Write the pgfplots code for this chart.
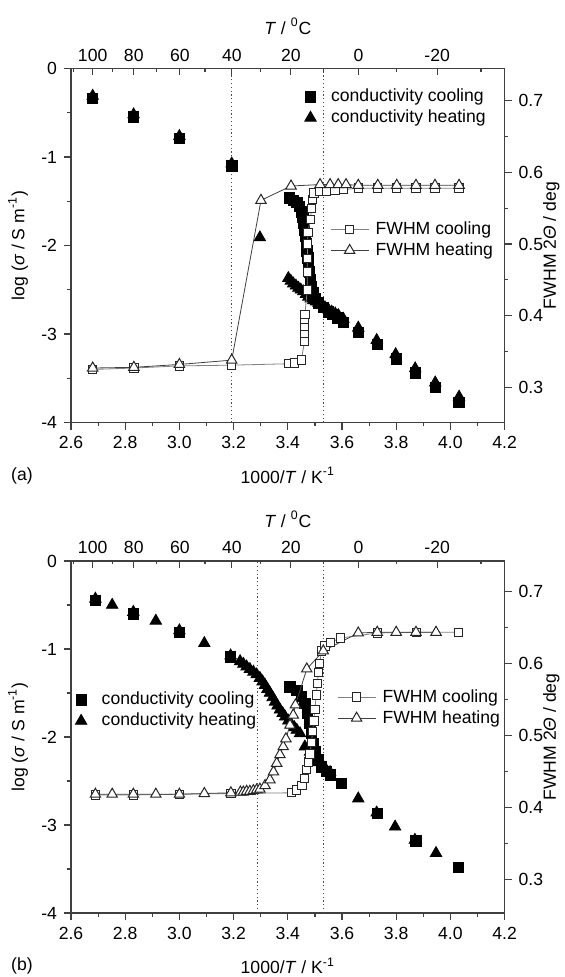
\documentclass[border=0pt]{standalone}
\usepackage{fontspec}
\setmainfont{Liberation Sans}
\usepackage{pgfplots}
\pgfplotsset{compat=1.18}

\newcommand{\fs}{\fontsize{8.8pt}{10.5pt}\selectfont}
\pgfplotsset{
  base/.style={
    scale only axis, width=216.8pt, xmin=2.6, xmax=4.2,
    font=\fs, tick label style={font=\fs},
    axis line style={line width=0.7pt, black!75},
    every tick/.style={line width=0.6pt, black!75},
    major tick length=3.5pt, minor tick length=1.75pt,
  },
  condaxis/.style={
    base, axis x line*=bottom, axis y line*=left, tick align=outside,
    ymin=-4, ymax=0, ytick={-4,-3,-2,-1,0}, yticklabels={-4,-3,-2,-1,0},
    minor ytick={-3.5,-2.5,-1.5,-0.5},
    xtick={2.6,2.8,3.0,3.2,3.4,3.6,3.8,4.0,4.2},
    xticklabels={2.6,2.8,3.0,3.2,3.4,3.6,3.8,4.0,4.2},
    minor xtick={2.7,2.9,3.1,3.3,3.5,3.7,3.9,4.1},
    xlabel={1000/\textit{T} / K\textsuperscript{-1}},
    xlabel style={at={(axis description cs:0.5,-0.15)}, anchor=center},
    ylabel={log (\textit{σ} / S m\textsuperscript{-1})},
    ylabel style={at={(axis description cs:-0.122,0.5)}, anchor=center},
    legend cell align=left,
    legend image code/.code={\path[draw=none, fill=none] (0pt,0pt) -- (13pt,0pt); \draw[##1] plot coordinates {(4pt,0pt)};},
  },
  fwhmaxis/.style={
    base, axis x line=none, axis y line*=right, tick align=outside,
    ytick={0.3,0.4,0.5,0.6,0.7}, yticklabels={0.3,0.4,0.5,0.6,0.7},
    minor ytick={0.25,0.35,0.45,0.55,0.65},
    ylabel={FWHM 2\textit{Θ} / deg},
    ylabel style={at={(axis description cs:1.108,0.5)}, anchor=center},
    legend cell align=left,
    legend image code/.code={\path[draw=none, fill=none] (0pt,0pt) -- (21.2pt,0pt); \draw[##1, mark repeat=2, mark phase=2] plot coordinates {(0pt,0pt) (9.5pt,0pt) (19pt,0pt)};},
  },
  taxis/.style={
    base, axis x line*=top, axis y line=none, tick align=inside,
    ymin=0, ymax=1,
    xtick={2.67989,2.83166,3.00165,3.19336,3.41122,3.66099,3.95100},
    xticklabels={100,80,60,40,20,0,-20},
    minor xtick={2.60994,2.75368,2.91418,3.09454,3.29870,3.53170,3.80011,4.11269},
    xlabel={\textit{T} / \textsuperscript{0}C},
    xlabel style={at={(axis description cs:0.5,1.119)}, anchor=center},
  },
  cc/.style={only marks, mark=square*, mark size=2.6pt, black},
  ch/.style={only marks, mark=triangle*, mark size=3.3pt, black},
  fc/.style={black!50, line width=0.4pt, mark=square*, mark size=2.1pt, mark options={solid, fill=white, draw=black!85, line width=0.5pt}},
  fh/.style={black!75, line width=0.4pt, mark=triangle*, mark size=3pt, mark options={solid, fill=white, draw=black!85, line width=0.5pt}},
  dl/.style={black!70, line width=0.6pt, dash pattern=on 0.6pt off 1.3pt, forget plot},
  leg/.style={legend style={at={#1}, anchor=north west, draw=none, fill=none, inner sep=0pt, row sep=0pt, nodes={inner sep=1.3pt, anchor=west}, font=\fs}},
}

\begin{document}
\begin{tikzpicture}
\path[use as bounding box] (0pt,0pt) rectangle (282pt,-488.5pt);

% ---------------- panel (a) ----------------
\begin{axis}[condaxis, height=177pt, at={(35.5pt,-211.25pt)}, anchor=south west, leg={(0.533,0.9506)}]
\addplot[dl] coordinates {(3.193,-4) (3.193,0)};
\addplot[dl] coordinates {(3.532,-4) (3.532,0)};
\addplot[cc] coordinates {
(2.680,-0.34) (2.831,-0.545) (3.000,-0.79) (3.193,-1.10)
(3.405,-1.46) (3.420,-1.49) (3.433,-1.51) (3.443,-1.56) (3.451,-1.62)
(3.455,-1.68) (3.459,-1.75) (3.462,-1.83) (3.465,-1.90) (3.468,-1.98)
(3.471,-2.06) (3.474,-2.14) (3.477,-2.22) (3.480,-2.30) (3.483,-2.38)
(3.487,-2.46) (3.492,-2.53) (3.500,-2.60) (3.513,-2.65) (3.531,-2.70)
(3.549,-2.75) (3.567,-2.78) (3.585,-2.82) (3.605,-2.87)
(3.660,-2.98) (3.730,-3.12) (3.800,-3.28) (3.871,-3.44) (3.945,-3.60) (4.032,-3.77)};
\addlegendentry{conductivity cooling}
\addplot[ch] coordinates {
(2.680,-0.31) (2.831,-0.52) (3.000,-0.765) (3.193,-1.075) (3.297,-1.91)
(3.402,-2.37) (3.411,-2.40) (3.420,-2.43) (3.430,-2.455) (3.439,-2.48)
(3.448,-2.50) (3.457,-2.52) (3.467,-2.55) (3.476,-2.58) (3.485,-2.60)
(3.494,-2.62) (3.504,-2.635) (3.513,-2.65) (3.525,-2.675) (3.537,-2.70)
(3.550,-2.725) (3.562,-2.75) (3.575,-2.77) (3.587,-2.79) (3.605,-2.83)
(3.660,-2.93) (3.728,-3.07) (3.798,-3.23) (3.870,-3.39) (3.944,-3.55) (4.032,-3.71)};
\addlegendentry{conductivity heating}
\end{axis}

\begin{axis}[fwhmaxis, height=177pt, at={(35.5pt,-211.25pt)}, anchor=south west, ymin=0.251, ymax=0.745, leg={(0.597,0.576)}]
\addplot[fc] coordinates {
(2.680,0.325) (2.832,0.327) (3.000,0.330) (3.193,0.331) (3.405,0.333)
(3.425,0.334) (3.450,0.338) (3.462,0.365) (3.462,0.375) (3.462,0.385)
(3.462,0.395) (3.463,0.402) (3.472,0.436) (3.472,0.461) (3.472,0.480)
(3.473,0.500) (3.474,0.516) (3.483,0.534) (3.488,0.550) (3.492,0.562)
(3.497,0.571) (3.519,0.573) (3.543,0.574) (3.574,0.575) (3.605,0.576)
(3.660,0.578) (3.732,0.578) (3.802,0.578) (3.873,0.578) (3.943,0.578) (4.032,0.578)};
\addlegendentry{FWHM cooling}
\addplot[fh] coordinates {
(2.680,0.327) (2.832,0.328) (3.000,0.332) (3.193,0.338) (3.301,0.561)
(3.412,0.581) (3.519,0.583) (3.556,0.583) (3.586,0.583) (3.615,0.583)
(3.660,0.582) (3.732,0.582) (3.802,0.582) (3.873,0.582) (3.943,0.582) (4.032,0.582)};
\addlegendentry{FWHM heating}
\end{axis}

\begin{axis}[taxis, height=177pt, at={(35.5pt,-211.25pt)}, anchor=south west]
\end{axis}

\node[font=\fs] at (11pt,-238pt) {(a)};

% ---------------- panel (b) ----------------
\begin{axis}[condaxis, height=176pt, at={(35.5pt,-456.5pt)}, anchor=south west, leg={(0.004,0.636)}]
\addplot[dl] coordinates {(3.288,-4) (3.288,0)};
\addplot[dl] coordinates {(3.532,-4) (3.532,0)};
\addplot[cc] coordinates {
(2.690,-0.45) (2.830,-0.60) (3.000,-0.81) (3.189,-1.09)
(3.408,-1.43) (3.433,-1.47) (3.451,-1.54) (3.463,-1.62) (3.472,-1.73)
(3.482,-1.84) (3.488,-1.96) (3.494,-2.07) (3.500,-2.17) (3.513,-2.26)
(3.525,-2.34) (3.543,-2.39) (3.557,-2.43) (3.597,-2.53)
(3.730,-2.87) (3.873,-3.18) (4.030,-3.48)};
\addlegendentry{conductivity cooling}
\addplot[ch] coordinates {
(2.690,-0.43) (2.752,-0.50) (2.830,-0.58) (2.913,-0.68) (3.000,-0.79)
(3.092,-0.935) (3.189,-1.075) (3.224,-1.14) (3.236,-1.17) (3.248,-1.20)
(3.260,-1.23) (3.273,-1.26) (3.285,-1.29) (3.297,-1.33) (3.307,-1.37)
(3.316,-1.41) (3.325,-1.455) (3.334,-1.50) (3.344,-1.55) (3.353,-1.60)
(3.362,-1.645) (3.371,-1.69) (3.381,-1.73) (3.390,-1.77) (3.402,-1.815)
(3.414,-1.86) (3.424,-1.89) (3.433,-1.92) (3.445,-1.96)
(3.463,-2.11) (3.482,-2.17) (3.500,-2.23) (3.519,-2.29) (3.537,-2.35) (3.556,-2.40)
(3.660,-2.70) (3.728,-2.86) (3.796,-3.02) (3.869,-3.17) (3.947,-3.32)};
\addlegendentry{conductivity heating}
\end{axis}

\begin{axis}[fwhmaxis, height=176pt, at={(35.5pt,-456.5pt)}, anchor=south west, ymin=0.253, ymax=0.742, leg={(0.613,0.644)}]
\addplot[fc] coordinates {
(2.690,0.417) (2.830,0.417) (3.000,0.418) (3.190,0.419) (3.414,0.420)
(3.433,0.424) (3.452,0.430) (3.462,0.440) (3.470,0.452) (3.476,0.463)
(3.482,0.474) (3.487,0.490) (3.492,0.505) (3.496,0.520) (3.500,0.536)
(3.505,0.556) (3.509,0.572) (3.513,0.587) (3.517,0.600) (3.525,0.617)
(3.537,0.624) (3.557,0.629) (3.595,0.635) (3.730,0.642) (3.875,0.643) (4.030,0.643)};
\addlegendentry{FWHM cooling}
\addplot[fh] coordinates {
(2.690,0.418) (2.752,0.418) (2.830,0.418) (2.913,0.418) (3.000,0.418)
(3.092,0.419) (3.190,0.420) (3.225,0.421) (3.236,0.421) (3.248,0.422)
(3.260,0.422) (3.273,0.423) (3.285,0.424) (3.297,0.425) (3.316,0.430)
(3.334,0.438) (3.347,0.449) (3.359,0.461) (3.371,0.473) (3.383,0.484)
(3.393,0.495) (3.408,0.514) (3.420,0.528) (3.428,0.542) (3.470,0.592)
(3.531,0.617) (3.660,0.642) (3.730,0.643) (3.800,0.643) (3.873,0.643) (3.947,0.643)};
\addlegendentry{FWHM heating}
\end{axis}

\begin{axis}[taxis, height=176pt, at={(35.5pt,-456.5pt)}, anchor=south west]
\end{axis}

\node[font=\fs] at (11pt,-483pt) {(b)};
\end{tikzpicture}
\end{document}
